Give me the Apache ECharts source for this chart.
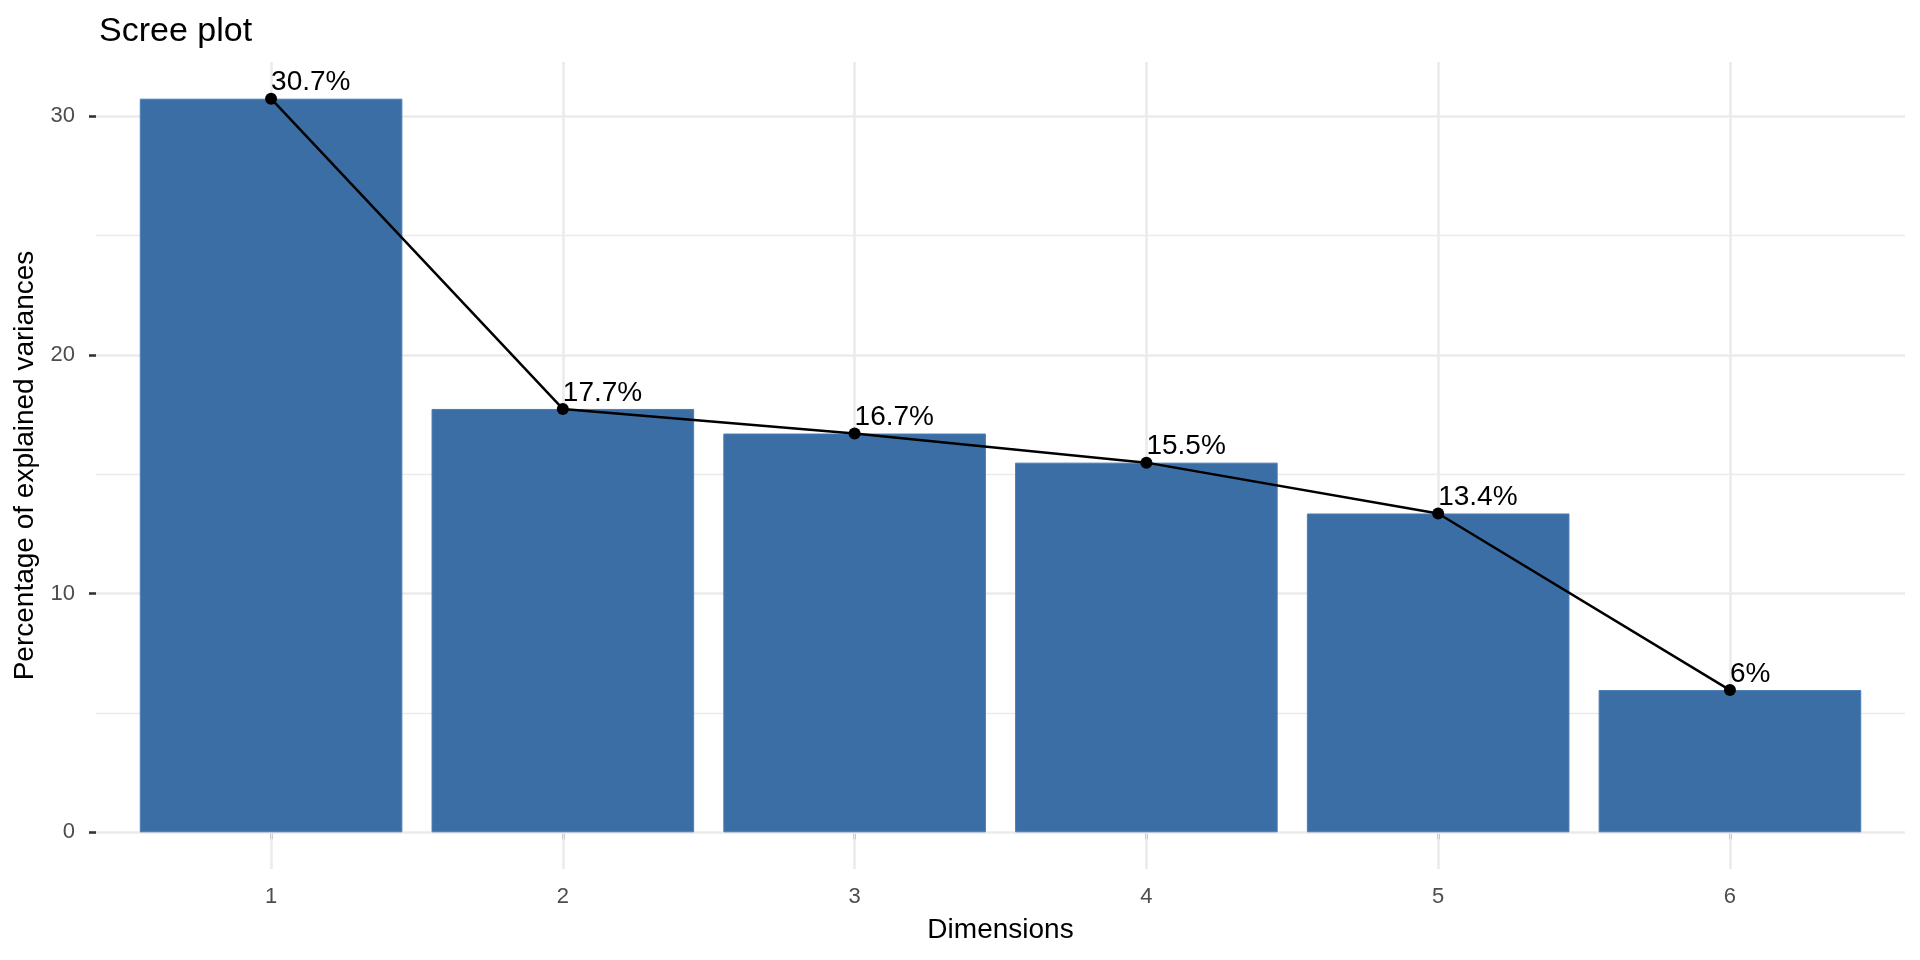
<!DOCTYPE html>
<html>
<head>
<meta charset="utf-8">
<script src="https://cdn.jsdelivr.net/npm/echarts@6/dist/echarts.min.js"></script>
<style>
html,body{margin:0;padding:0;background:#fff;}
#chart{width:1920px;height:960px;}
</style>
</head>
<body>
<div id="chart"></div>
<script>
// ---- data ----
var dimensions = ['1', '2', '3', '4', '5', '6'];
var explainedVariance = [30.74, 17.74, 16.71, 15.49, 13.36, 5.96];
var yTickValues = [0, 10, 20, 30];
var yMinorValues = [5, 15, 25];
var xTickValues = [1, 2, 3, 4, 5, 6];

// ---- layout (ggplot-like panel with 5% / 0.6 expansion) ----
var gridLeft = 96, gridRight = 15, gridTop = 62, gridBottom = 91;
var panelW = 1920 - gridLeft - gridRight;
var xMin = 0.4, xMax = dimensions.length + 0.6;
var unit = panelW / (xMax - xMin);
var yMaxData = Math.max.apply(null, explainedVariance);
var yMin = -0.05 * yMaxData, yMax = 1.05 * yMaxData;

var FONT = '"Liberation Sans", Arial, Helvetica, sans-serif';

var points = dimensions.map(function (d, i) { return [i + 1, explainedVariance[i]]; });

var gridLines = [];
yTickValues.forEach(function (v) { gridLines.push({ yAxis: v, lineStyle: { width: 2.6 } }); });
yMinorValues.forEach(function (v) { gridLines.push({ yAxis: v, lineStyle: { width: 1.3 } }); });
xTickValues.forEach(function (v) { gridLines.push({ xAxis: v, lineStyle: { width: 2.6 } }); });

function fmtPct(v) { return (Math.round(v * 10) / 10) + '%'; }

var chart = echarts.init(document.getElementById('chart'), null, { renderer: 'canvas' });
chart.setOption({
  animation: false,
  backgroundColor: '#ffffff',
  textStyle: { fontFamily: FONT },
  title: {
    text: 'Scree plot',
    left: 94,
    top: 10,
    textStyle: { fontFamily: FONT, fontSize: 34, fontWeight: 'normal', color: '#000000' }
  },
  grid: {
    left: gridLeft, right: gridRight, top: gridTop, bottom: gridBottom,
    containLabel: false, outerBoundsMode: 'none'
  },
  xAxis: {
    type: 'value',
    min: xMin, max: xMax,
    name: 'Dimensions',
    nameLocation: 'middle',
    nameGap: 47,
    nameTextStyle: { fontFamily: FONT, fontSize: 28, color: '#000000' },
    axisLine: { show: false },
    axisTick: { show: true, customValues: xTickValues, length: 7, lineStyle: { color: '#333333', width: 2.6 } },
    axisLabel: {
      show: true, customValues: xTickValues, margin: 17,
      fontFamily: FONT, fontSize: 22, color: '#4D4D4D',
      formatter: function (v) { return dimensions[Math.round(v) - 1] || ''; }
    },
    splitLine: { show: false }
  },
  yAxis: {
    type: 'value',
    min: yMin, max: yMax,
    name: 'Percentage of explained variances',
    nameLocation: 'middle',
    nameGap: 55,
    nameTextStyle: { fontFamily: FONT, fontSize: 28, color: '#000000' },
    axisLine: { show: false },
    axisTick: { show: true, customValues: yTickValues, length: 7, lineStyle: { color: '#333333', width: 2.6 } },
    axisLabel: {
      show: true, customValues: yTickValues, margin: 21,
      fontFamily: FONT, fontSize: 22, color: '#4D4D4D'
    },
    splitLine: { show: false }
  },
  series: [
    {
      type: 'line',
      name: 'grid',
      data: [],
      zlevel: 0,
      z: 0,
      silent: true,
      markLine: {
        silent: true,
        symbol: 'none',
        animation: false,
        label: { show: false },
        lineStyle: { color: '#EBEBEB', type: 'solid', width: 2.6 },
        data: gridLines
      }
    },
    {
      type: 'bar',
      name: 'variance',
      data: points,
      barWidth: 0.9 * unit,
      zlevel: 1,
      z: 2,
      itemStyle: { color: '#3B6EA5', borderColor: '#4A7DB5', borderWidth: 1 }
    },
    {
      type: 'line',
      name: 'scree',
      data: points,
      zlevel: 1,
      z: 3,
      symbol: 'circle',
      symbolSize: 12,
      itemStyle: { color: '#000000' },
      lineStyle: { color: '#000000', width: 2.5 },
      label: {
        show: true,
        position: 'top',
        distance: 0,
        align: 'left',
        offset: [0, 4],
        fontFamily: FONT,
        fontSize: 28,
        color: '#000000',
        formatter: function (p) { return fmtPct(p.value[1]); }
      }
    }
  ]
});
</script>
</body>
</html>
